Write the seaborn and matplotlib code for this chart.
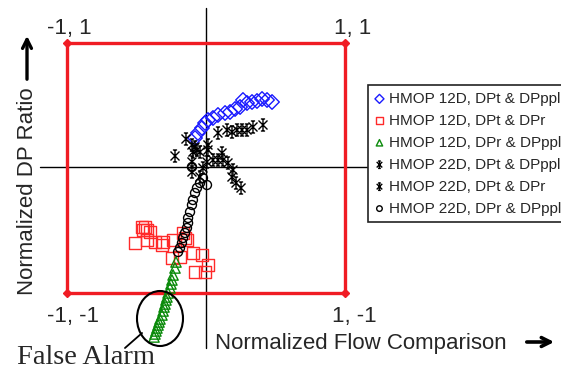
import numpy as np
import pandas as pd
import matplotlib
matplotlib.use("Agg")
import matplotlib.pyplot as plt
import seaborn as sns
from matplotlib.path import Path
from matplotlib.patches import Ellipse, Rectangle

# ---------------- data (normalized flow comparison, normalized DP ratio) ----------------
labels = ["HMOP 12D, DPt & DPppl", "HMOP 12D, DPt & DPr", "HMOP 12D, DPr & DPppl",
          "HMOP 22D, DPt & DPppl", "HMOP 22D, DPt & DPr", "HMOP 22D, DPr & DPppl"]

s1_x = [-0.079, -0.058, -0.029, -0.007, 0.014, 0.050, 0.086, 0.137, 0.173, 0.209, 0.245,
        0.266, 0.295, 0.331, 0.367, 0.403, 0.439, 0.475]
s1_y = [0.240, 0.280, 0.320, 0.360, 0.384, 0.400, 0.424, 0.440, 0.448, 0.472, 0.488,
        0.544, 0.520, 0.528, 0.536, 0.552, 0.544, 0.528]

s2_x = [-0.460, -0.439, -0.453, -0.424, -0.403, -0.511, -0.424, -0.367, -0.317, -0.309,
        -0.237, -0.165, -0.151, -0.137, -0.094, -0.029, -0.245, -0.187, -0.079, -0.007, 0.014]
s2_y = [-0.472, -0.472, -0.496, -0.496, -0.512, -0.600, -0.576, -0.592, -0.616, -0.592,
        -0.576, -0.520, -0.560, -0.576, -0.680, -0.696, -0.720, -0.712, -0.832, -0.832, -0.776]

s3_x = [-0.216, -0.223, -0.237, -0.245, -0.252, -0.259, -0.273, -0.281, -0.288, -0.295,
        -0.302, -0.309, -0.317, -0.331, -0.338, -0.345, -0.353, -0.360, -0.367, -0.374]
s3_y = [-0.752, -0.800, -0.856, -0.896, -0.928, -0.960, -1.000, -1.032, -1.056, -1.088,
        -1.112, -1.144, -1.176, -1.208, -1.232, -1.256, -1.280, -1.304, -1.328, -1.352]

s4_x = [0.086, 0.151, 0.187, 0.223, 0.259, 0.295, 0.338, 0.410, 0.014, -0.144, -0.101,
        -0.079, -0.065, -0.094, -0.043, 0.014]
s4_y = [0.280, 0.304, 0.288, 0.304, 0.304, 0.304, 0.328, 0.344, 0.184, 0.232, 0.184,
        0.168, 0.144, 0.128, 0.128, 0.144]

s5_x = [-0.223, 0.050, 0.086, 0.115, 0.122, 0.158, 0.194, 0.187, 0.216, 0.252, -0.101,
        -0.101, -0.043, -0.022, 0.007]
s5_y = [0.096, 0.064, 0.064, 0.120, 0.064, 0.040, -0.016, -0.072, -0.120, -0.160, -0.032,
        0.048, -0.072, 0.000, 0.048]

s6_x = [-0.101, 0.007, -0.022, -0.043, -0.065, -0.079, -0.094, -0.101, -0.115, -0.129,
        -0.129, -0.137, -0.151, -0.165, -0.173, -0.187, -0.201]
s6_y = [0.008, -0.136, -0.080, -0.120, -0.160, -0.200, -0.256, -0.296, -0.352, -0.400,
        -0.440, -0.480, -0.520, -0.560, -0.600, -0.640, -0.672]

corner_labels = ["-1, 1", "1, 1", "-1, -1", "1, -1"]
xlabel = "Normalized Flow Comparison"
ylabel = "Normalized DP Ratio"
note = "False Alarm"

# ---------------- style ----------------
sns.set_style("white")
plt.rcParams["font.family"] = ["Liberation Sans", "DejaVu Sans"]

W, H = 561, 370
fig = plt.figure(figsize=(W / 100, H / 100), dpi=100)
ax = fig.add_axes([0, 0, 1, 1])

def fx(px):
    return px / W

def fy(py):
    return 1 - py / H

# asterisk-like marker (Excel style star)
star_verts = [(0, -1), (0, 1), (-0.75, -0.75), (0.75, 0.75), (-0.75, 0.75), (0.75, -0.75),
              (-0.35, 1), (0.35, 1), (-0.35, -1), (0.35, -1)]
star_codes = [Path.MOVETO, Path.LINETO] * 5
star = Path(star_verts, star_codes)

series = [
    (s1_x, s1_y, "D", "#1a1aff", 55),
    (s2_x, s2_y, "s", "#ff2a2a", 72),
    (s3_x, s3_y, "^", "#0a8a0a", 55),
    (s4_x, s4_y, star, "#000000", 75),
    (s5_x, s5_y, star, "#000000", 75),
    (s6_x, s6_y, "o", "#000000", 42),
]

# frame (red square) and crosshair
ax.add_patch(Rectangle((-1, -1), 2, 2, fill=False, ec="#f01c24", lw=2.4, zorder=2))
ax.plot([-1, 1, 1, -1], [1, 1, -1, -1], ls="none", marker="D", ms=4, color="#f01c24", zorder=2)
ax.plot([0, 0], [1.28, -1.44], color="black", lw=1.0, zorder=1)
ax.plot([-1.194, 1.165], [0.008, 0.008], color="black", lw=1.0, zorder=1)

handles = []
for (xs, ys, mk, col, sz), lab in zip(series, labels):
    df = pd.DataFrame({"x": xs, "y": ys})
    sns.scatterplot(data=df, x="x", y="y", marker=mk, s=sz, facecolors="none",
                    edgecolor=col, linewidth=1.0, ax=ax, label=lab, zorder=3, legend=False)
    handles.append(ax.collections[-1])

# false alarm ellipse + pointer
ax.add_patch(Ellipse((-0.331, -1.204), 0.331, 0.44, fill=False, ec="black", lw=1.5, zorder=4))
ax.plot([-0.583, -0.460], [-1.44, -1.32], color="black", lw=1.3, zorder=4)

ax.set_xlim(-206 / 139, 355 / 139)
ax.set_ylim(-202 / 125, 168 / 125)
ax.set_axis_off()

# legend
leg = ax.legend(handles, labels, loc="upper left", bbox_to_anchor=(fx(368), fy(85)),
                bbox_transform=fig.transFigure, borderaxespad=0, fontsize=11,
                frameon=True, fancybox=False, framealpha=1, edgecolor="#222222",
                handlelength=0.6, handletextpad=0.35, labelspacing=0.52, borderpad=0.45,
                markerscale=0.62)
leg.get_frame().set_linewidth(1.2)

# corner labels
fs = 16
fig.text(fx(47), fy(34), corner_labels[0], fontsize=fs, va="baseline", ha="left")
fig.text(fx(334), fy(34), corner_labels[1], fontsize=fs, va="baseline", ha="left")
fig.text(fx(47), fy(322), corner_labels[2], fontsize=fs, va="baseline", ha="left")
fig.text(fx(332), fy(322), corner_labels[3], fontsize=fs, va="baseline", ha="left")

# axis labels with arrows
fig.text(fx(215), fy(349), xlabel, fontsize=fs, va="baseline", ha="left")
ax.annotate("", xy=(557, H - 342), xytext=(524, H - 342), xycoords="figure pixels",
            textcoords="figure pixels",
            arrowprops=dict(arrowstyle="->", lw=2.6, mutation_scale=16, color="black"))
fig.text(fx(28), fy(191), ylabel, fontsize=fs, rotation=90, va="center", ha="center")
ax.annotate("", xy=(27, H - 33), xytext=(27, H - 82), xycoords="figure pixels",
            textcoords="figure pixels",
            arrowprops=dict(arrowstyle="->", lw=2.4, mutation_scale=16, color="black"))

fig.text(fx(17), fy(363.5), note, fontsize=20.5, va="baseline", ha="left",
         family=["Liberation Serif", "DejaVu Serif"])

fig.savefig("out.png", dpi=100)
